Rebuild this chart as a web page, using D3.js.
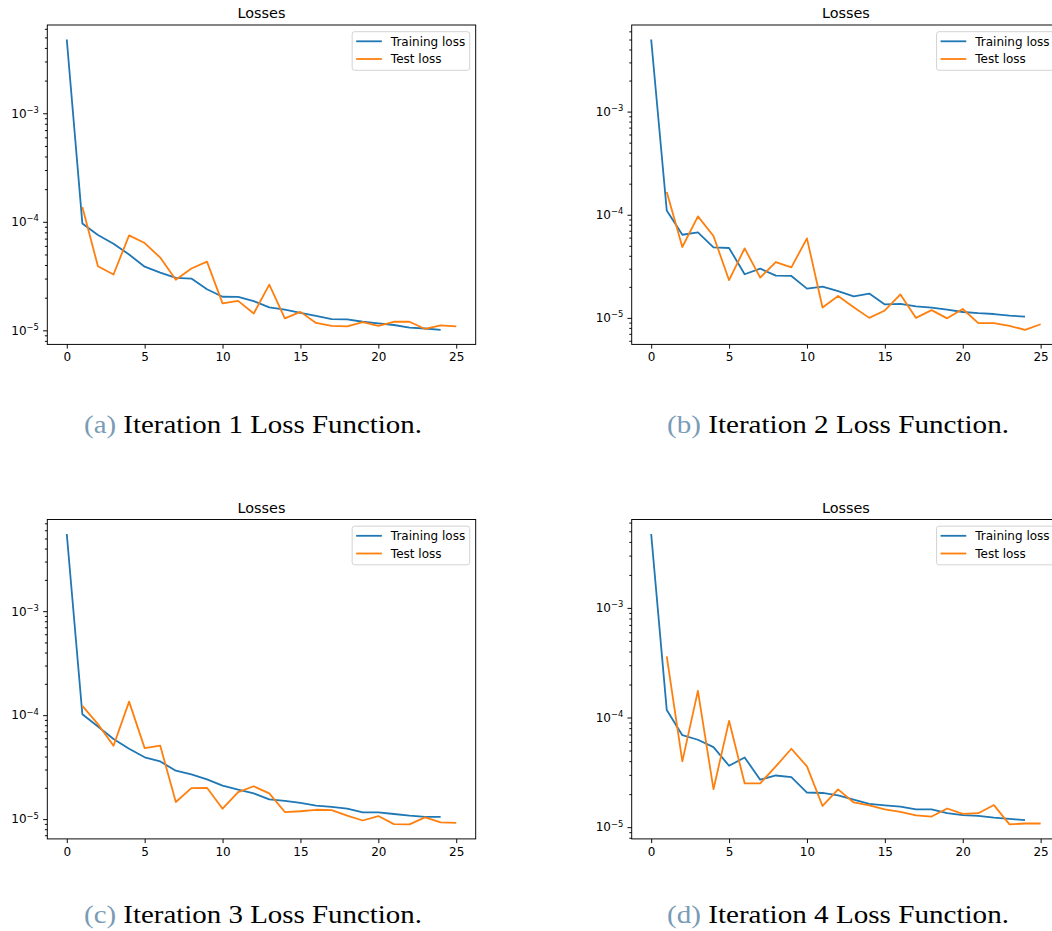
<!DOCTYPE html>
<html>
<head>
<meta charset="utf-8">
<script src="https://cdn.jsdelivr.net/npm/d3@7"></script>
<style>
body { margin: 0; background: #fff; }
svg { display: block; }
</style>
</head>
<body>
<script>
// epochs
var trainEpochs = [0,1,2,3,4,5,6,7,8,9,10,11,12,13,14,15,16,17,18,19,20,21,22,23,24];
var testEpochs  = [1,2,3,4,5,6,7,8,9,10,11,12,13,14,15,16,17,18,19,20,21,22,23,24,25];

// iteration 1
var train1 = [4.78e-3,9.66e-5,7.55e-5,6.28e-5,5.0e-5,3.86e-5,3.40e-5,3.04e-5,3.0e-5,2.39e-5,2.04e-5,2.03e-5,1.86e-5,
              1.63e-5,1.55e-5,1.45e-5,1.36e-5,1.27e-5,1.26e-5,1.20e-5,1.16e-5,1.12e-5,1.06e-5,1.04e-5,1.01e-5];
var test1  = [1.37e-4,3.89e-5,3.27e-5,7.5e-5,6.37e-5,4.68e-5,2.92e-5,3.71e-5,4.3e-5,1.77e-5,1.87e-5,1.43e-5,2.64e-5,
              1.29e-5,1.48e-5,1.17e-5,1.10e-5,1.09e-5,1.19e-5,1.10e-5,1.20e-5,1.20e-5,1.03e-5,1.11e-5,1.09e-5];
// iteration 2
var train2 = [5.0e-3,1.10e-4,6.4e-5,6.75e-5,4.83e-5,4.76e-5,2.65e-5,3.0e-5,2.57e-5,2.55e-5,1.92e-5,2.01e-5,1.82e-5,
              1.62e-5,1.72e-5,1.35e-5,1.37e-5,1.29e-5,1.26e-5,1.20e-5,1.14e-5,1.11e-5,1.09e-5,1.05e-5,1.03e-5];
var test2  = [1.66e-4,4.87e-5,9.64e-5,6.22e-5,2.32e-5,4.72e-5,2.46e-5,3.48e-5,3.09e-5,5.9e-5,1.26e-5,1.63e-5,1.27e-5,
              1.0e-5,1.18e-5,1.69e-5,1.0e-5,1.19e-5,9.9e-6,1.22e-5,8.88e-6,8.88e-6,8.37e-6,7.65e-6,8.68e-6];
// iteration 3
var train3 = [5.52e-3,1.02e-4,7.78e-5,5.89e-5,4.75e-5,3.93e-5,3.59e-5,2.92e-5,2.69e-5,2.41e-5,2.10e-5,1.92e-5,1.77e-5,
              1.55e-5,1.50e-5,1.43e-5,1.35e-5,1.31e-5,1.26e-5,1.16e-5,1.16e-5,1.12e-5,1.08e-5,1.05e-5,1.05e-5];
var test3  = [1.23e-4,8.2e-5,5.08e-5,1.35e-4,4.82e-5,5.08e-5,1.46e-5,1.99e-5,2.0e-5,1.26e-5,1.82e-5,2.07e-5,1.77e-5,
              1.17e-5,1.19e-5,1.23e-5,1.22e-5,1.08e-5,9.7e-6,1.07e-5,8.95e-6,8.9e-6,1.04e-5,9.29e-6,9.2e-6];
// iteration 4
var train4 = [4.72e-3,1.17e-4,6.9e-5,6.27e-5,5.37e-5,3.63e-5,4.32e-5,2.71e-5,2.96e-5,2.86e-5,2.07e-5,2.05e-5,1.95e-5,
              1.78e-5,1.63e-5,1.58e-5,1.54e-5,1.45e-5,1.45e-5,1.34e-5,1.29e-5,1.27e-5,1.22e-5,1.19e-5,1.16e-5];
var test4  = [3.61e-4,3.98e-5,1.75e-4,2.22e-5,9.33e-5,2.51e-5,2.51e-5,3.58e-5,5.19e-5,3.58e-5,1.56e-5,2.21e-5,1.68e-5,
              1.58e-5,1.45e-5,1.38e-5,1.28e-5,1.25e-5,1.48e-5,1.32e-5,1.34e-5,1.59e-5,1.06e-5,1.08e-5,1.08e-5];

var seriesNames = ["Training loss", "Test loss"];
var panelLetters = ["(a)", "(b)", "(c)", "(d)"];
var panelCaptions = ["Iteration 1 Loss Function.", "Iteration 2 Loss Function.",
                     "Iteration 3 Loss Function.", "Iteration 4 Loss Function."];
var xTicks = [0, 5, 10, 15, 20, 25];

var blue = "#1f77b4", orange = "#ff7f0e";
var font = "'DejaVu Sans', sans-serif";

var svg = d3.select("body").append("svg").attr("width", 1052).attr("height", 931);

var w = 428.4, h = 319.4;
var panels = [
  {train: train1, test: test1, left: 47.3,  top: 25,    capX: 84,  capY: 433, capW: 338},
  {train: train2, test: test2, left: 631.7, top: 25,    capX: 667, capY: 433, capW: 342},
  {train: train3, test: test3, left: 47.3,  top: 519.5, capX: 84,  capY: 923, capW: 338},
  {train: train4, test: test4, left: 631.7, top: 519.5, capX: 667, capY: 923, capW: 342}
];

panels.forEach(function(p, i) {
  var g = svg.append("g").attr("transform", "translate(" + p.left + "," + p.top + ")");

  var x = d3.scaleLinear().domain([-1.25, 26.25]).range([0, w]);
  // log axis with 5% margins in log space, like matplotlib
  var all = p.train.concat(p.test);
  var lo = Math.log10(d3.min(all)), hi = Math.log10(d3.max(all)), pad = (hi - lo) * 0.05;
  var y = d3.scaleLog().domain([Math.pow(10, lo - pad), Math.pow(10, hi + pad)]).range([h, 0]);

  var isMajor = function(v) { return Math.abs(Math.log10(v) - Math.round(Math.log10(v))) < 1e-6; };
  var allTicks = y.ticks();
  var majors = allTicks.filter(isMajor);
  var minors = allTicks.filter(function(v) { return !isMajor(v); });

  // x axis
  var xa = g.append("g").attr("transform", "translate(0," + h + ")")
    .call(d3.axisBottom(x).tickValues(xTicks).tickSize(4.2).tickPadding(4.2));
  xa.select(".domain").remove();

  // y minor ticks
  var ym = g.append("g").call(d3.axisLeft(y).tickValues(minors).tickSize(2.4).tickFormat(""));
  ym.select(".domain").remove();

  // y major ticks with 10^k labels
  var ya = g.append("g").call(d3.axisLeft(y).tickValues(majors).tickSize(4.2).tickPadding(4.2).tickFormat(""));
  ya.select(".domain").remove();
  ya.selectAll(".tick text").each(function(v) {
    var t = d3.select(this);
    t.append("tspan").text("10");
    t.append("tspan").attr("font-size", "8.4px").attr("dy", "-4.8").text("\u2212" + Math.abs(Math.round(Math.log10(v))));
  });

  [xa, ym, ya].forEach(function(a) {
    a.attr("color", "#000").attr("font-size", "12px").attr("font-family", font);
    a.selectAll("line").attr("stroke-width", 0.96);
  });

  var line = d3.line()
    .x(function(d) { return x(d[0]); })
    .y(function(d) { return y(d[1]); });

  g.append("path")
    .datum(d3.zip(trainEpochs, p.train))
    .attr("d", line).attr("fill", "none").attr("stroke", blue)
    .attr("stroke-width", 1.8).attr("stroke-linejoin", "round");
  g.append("path")
    .datum(d3.zip(testEpochs, p.test))
    .attr("d", line).attr("fill", "none").attr("stroke", orange)
    .attr("stroke-width", 1.8).attr("stroke-linejoin", "round");

  // frame
  g.append("rect").attr("width", w).attr("height", h)
    .attr("fill", "none").attr("stroke", "#000").attr("stroke-width", 0.96);

  // title
  g.append("text").text("Losses")
    .attr("x", w / 2).attr("y", -7)
    .attr("text-anchor", "middle")
    .attr("font-family", font).attr("font-size", "14.4px");

  // legend
  var lg = g.append("g");
  var box = lg.append("rect");
  var labels = lg.selectAll("text.leg").data(seriesNames).enter().append("text")
    .attr("class", "leg")
    .attr("font-family", font).attr("font-size", "12px")
    .attr("dy", "0.35em")
    .text(function(d) { return d; });
  var textW = 0;
  labels.each(function() { textW = Math.max(textW, this.getComputedTextLength()); });
  var boxW = 4 + 25.7 + 9 + textW + 4.5;
  var bx = w - 6 - boxW, by = 6.7;
  box.attr("x", bx).attr("y", by).attr("width", boxW).attr("height", 38.6)
    .attr("rx", 2.4).attr("fill", "#fff").attr("fill-opacity", 0.8)
    .attr("stroke", "#cccccc").attr("stroke-width", 0.86);
  labels.attr("x", bx + 4 + 25.7 + 9)
    .attr("y", function(d, k) { return by + 9.6 + k * 17.7; });
  lg.selectAll("line.leg").data([blue, orange]).enter().append("line")
    .attr("x1", bx + 4).attr("x2", bx + 4 + 25.7)
    .attr("y1", function(d, k) { return by + 9.6 + k * 17.7; })
    .attr("y2", function(d, k) { return by + 9.6 + k * 17.7; })
    .attr("stroke", function(d) { return d; }).attr("stroke-width", 1.8);

  // caption below panel, stretched to the width of the original
  var cap = svg.append("text")
    .attr("x", p.capX).attr("y", p.capY)
    .attr("font-family", "'Liberation Serif', 'Times New Roman', serif")
    .attr("font-size", "25px")
    .attr("textLength", p.capW)
    .attr("lengthAdjust", "spacingAndGlyphs");
  cap.append("tspan").attr("fill", "#7a9bb6").text(panelLetters[i]);
  cap.append("tspan").attr("fill", "#000").text(" " + panelCaptions[i]);
});
</script>
</body>
</html>
